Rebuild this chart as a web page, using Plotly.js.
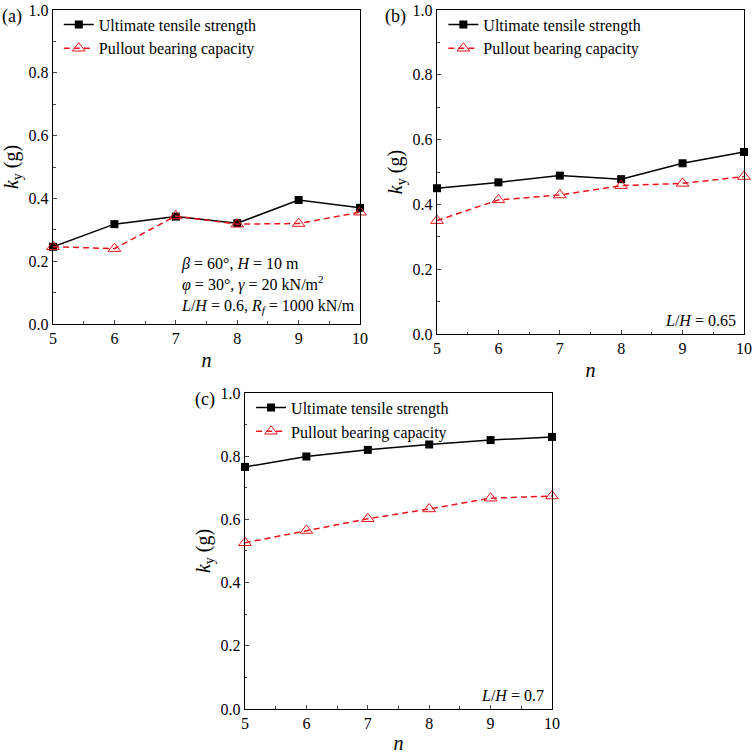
<!DOCTYPE html>
<html>
<head>
<meta charset="utf-8">
<script src="https://cdn.plot.ly/plotly-3.0.1.min.js"></script>
<style>
  html, body { margin: 0; padding: 0; background: #fff; }
  #chart { width: 754px; height: 754px; }
</style>
</head>
<body>
<div id="chart"></div>
<script>
/*
 Data
*/

var n = [5, 6, 7, 8, 9, 10];

var tensile_a = [0.246, 0.318, 0.342, 0.321, 0.395, 0.370];
var pullout_a = [0.246, 0.240, 0.344, 0.318, 0.320, 0.356];

var tensile_b = [0.450, 0.468, 0.489, 0.478, 0.527, 0.562];
var pullout_b = [0.350, 0.414, 0.429, 0.458, 0.465, 0.486];

var tensile_c = [0.766, 0.799, 0.820, 0.837, 0.851, 0.861];
var pullout_c = [0.526, 0.565, 0.602, 0.633, 0.667, 0.674];

var name_tensile = "Ultimate tensile strength";
var name_pullout = "Pullout bearing capacity";

/*
 Traces
*/

var serif = "Liberation Serif";

function tensile(x, y, xa, ya, lg) {
  return {
    x: x, y: y, xaxis: xa, yaxis: ya, legend: lg, cliponaxis: false,
    name: name_tensile, type: "scatter", mode: "lines+markers",
    line: {color: "black", width: 1.5},
    marker: {symbol: "square", size: 8, color: "black"}
  };
}

function pullout(x, y, xa, ya, lg) {
  return {
    x: x, y: y, xaxis: xa, yaxis: ya, legend: lg, cliponaxis: false,
    name: name_pullout, type: "scatter", mode: "lines+markers",
    line: {color: "#e8141c", width: 1.5, dash: "6px,4px"},
    marker: {symbol: "triangle-up-open", size: 11, color: "#e8141c", line: {width: 1}}
  };
}

var data = [
  tensile(n, tensile_a, "x", "y", "legend"),
  pullout(n, pullout_a, "x", "y", "legend"),
  tensile(n, tensile_b, "x2", "y2", "legend2"),
  pullout(n, pullout_b, "x2", "y2", "legend2"),
  tensile(n, tensile_c, "x3", "y3", "legend3"),
  pullout(n, pullout_c, "x3", "y3", "legend3")
];

/*
 Axes
*/

function xaxis(domain, anchor) {
  return {
    domain: domain, anchor: anchor, range: [5, 10],
    tick0: 5, dtick: 1, ticks: "inside", ticklen: 4, tickwidth: 1,
    minor: {dtick: 0.5, ticks: "inside", ticklen: 2.5, tickwidth: 1},
    showline: true, linecolor: "black", linewidth: 1.2, mirror: true,
    showgrid: false, zeroline: false,
    tickfont: {family: serif, size: 16, color: "black"},
    title: {text: "<i>n</i>", font: {family: serif, size: 20, color: "black"}, standoff: 6}
  };
}

function yaxis(domain, anchor) {
  return {
    domain: domain, anchor: anchor, range: [0, 1],
    tick0: 0, dtick: 0.2, tickformat: ".1f", ticks: "inside", ticklen: 4, tickwidth: 1,
    minor: {dtick: 0.1, ticks: "inside", ticklen: 2.5, tickwidth: 1},
    showline: true, linecolor: "black", linewidth: 1.2, mirror: true,
    showgrid: false, zeroline: false,
    tickfont: {family: serif, size: 16, color: "black"},
    title: {text: "<i>k</i><sub>y</sub> (g)", font: {family: serif, size: 20, color: "black"}, standoff: 4}
  };
}

function legend(x, y) {
  return {
    x: x, y: y, xanchor: "left", yanchor: "top",
    bgcolor: "rgba(0,0,0,0)", borderwidth: 0,
    font: {family: serif, size: 16, color: "black"}, tracegroupgap: 0
  };
}

function note(text, xref, yref, x, y, xanchor, yanchor, size) {
  return {
    text: text, xref: xref, yref: yref, x: x, y: y,
    xanchor: xanchor, yanchor: yanchor, align: "left", showarrow: false,
    font: {family: serif, size: size, color: "black"}
  };
}

var layout = {
  width: 754, height: 754,
  margin: {l: 0, r: 0, t: 0, b: 0},
  paper_bgcolor: "white", plot_bgcolor: "white",
  font: {family: serif, color: "black"},
  showlegend: true,
  xaxis: xaxis([0.0703, 0.4775], "y"),
  yaxis: yaxis([0.5703, 0.9867], "x"),
  xaxis2: xaxis([0.5796, 0.9867], "y2"),
  yaxis2: yaxis([0.5570, 0.9867], "x2"),
  xaxis3: xaxis([0.3249, 0.7321], "y3"),
  yaxis3: yaxis([0.0597, 0.4788], "x3"),
  legend: legend(0.078, 0.990),
  legend2: legend(0.588, 0.990),
  legend3: legend(0.333, 0.482),
  annotations: [
    note("(a)", "paper", "paper", 0.0, 0.995, "left", "top", 18),
    note("(b)", "paper", "paper", 0.508, 0.995, "left", "top", 18),
    note("(c)", "paper", "paper", 0.256, 0.487, "left", "top", 18),
    note("<i>β</i> = 60°, <i>H</i> = 10 m<br><i>φ</i> = 30°, <i>γ</i> = 20 kN/m<sup>2</sup><br><i>L</i>/<i>H</i> = 0.6, <i>R<sub>f</sub></i> = 1000 kN/m",
         "x domain", "y domain", 0.99, 0.02, "right", "bottom", 16),
    note("<i>L</i>/<i>H</i> = 0.65", "x2 domain", "y2 domain", 0.98, 0.01, "right", "bottom", 16),
    note("<i>L</i>/<i>H</i> = 0.7", "x3 domain", "y3 domain", 0.98, 0.01, "right", "bottom", 16)
  ]
};

var config = {displayModeBar: false, staticPlot: true};

Plotly.newPlot("chart", data, layout, config);
</script>
</body>
</html>
